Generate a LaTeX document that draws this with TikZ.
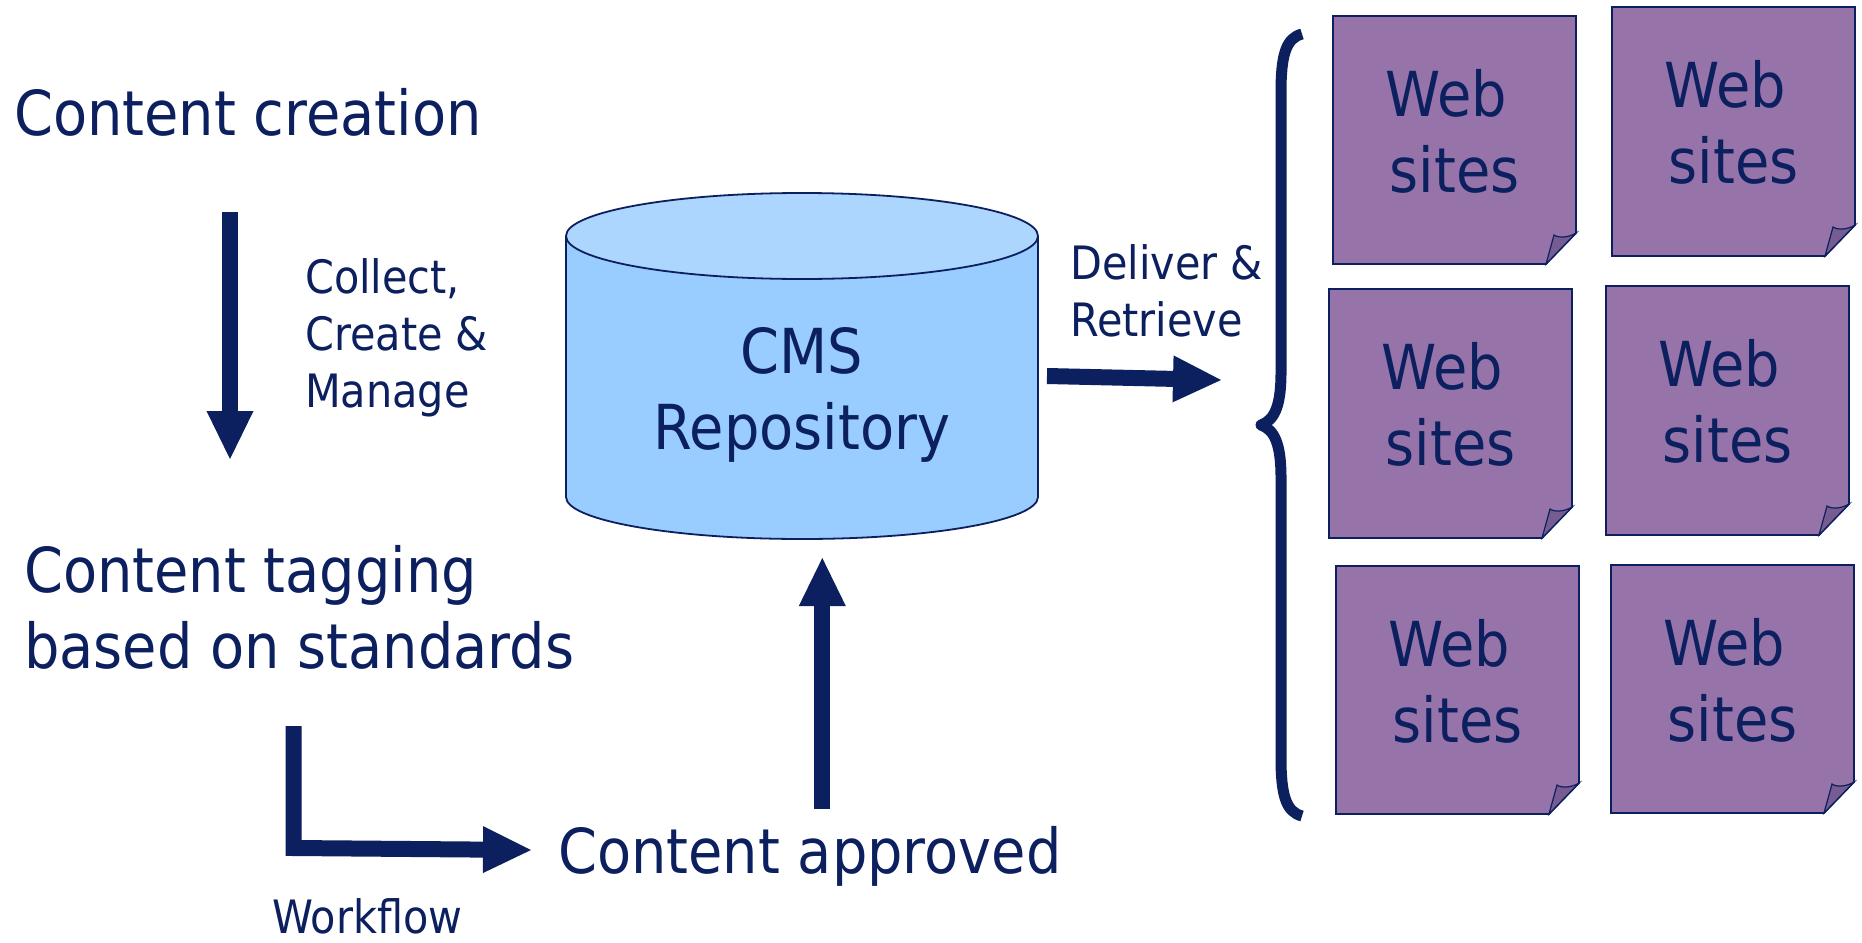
\documentclass[tikz,border=0pt]{standalone}
\usepackage{fontspec}
\setmainfont[FakeStretch=0.9]{DejaVu Sans}
\usetikzlibrary{arrows.meta}
\definecolor{navy}{RGB}{12,31,94}
\definecolor{sitepurple}{RGB}{150,116,170}
\definecolor{flapcol}{RGB}{118,92,145}
\definecolor{cylbody}{RGB}{153,204,255}
\definecolor{cyltop}{RGB}{173,214,255}
\newcommand\websitebox[5]{%
  \draw[site] (#2,-#3) -- (#4,-#3) -- (#4,-#5+31) -- (#4-30,-#5) -- (#2,-#5) -- cycle;
  \draw[flap] (#4-30,-#5) -- (#4-22,-#5+29) .. controls (#4-18,-#5+26) and (#4-8,-#5+26) .. (#4,-#5+31) -- cycle;
  \node[txt,big,align=center,anchor=base] (#1) at ({(#2+#4)/2},-#3-176) {Web\kern16pt\\sites};
}
\begin{document}
\begin{tikzpicture}[x=1pt,y=1pt,
  txt/.style={text=navy, inner sep=0pt},
  big/.style={font=\fontsize{62}{76}\selectfont},
  small/.style={font=\fontsize{46}{57}\selectfont},
  blockarrow/.style={draw=navy, line width=16pt, line join=miter,
    -{Triangle[length=48pt,width=47pt,line width=0pt]}},
  site/.style={draw=navy, line width=1.8pt, fill=sitepurple, line join=miter},
  flap/.style={draw=navy, line width=1.2pt, fill=flapcol},
  cyl/.style={draw=navy, line width=1.8pt},
  brace/.style={draw=navy, line width=11pt, line join=round}]
\fill[white] (0,0) rectangle (1862,-942);
\useasboundingbox (0,0) rectangle (1862,-942);

% left texts
\node[txt,big,anchor=base west] (create) at (14,-135) {Content creation};
\node[txt,small,anchor=base west,align=left] (collect) at (305,-407) {Collect,\\Create \&\\Manage};
\node[txt,big,anchor=base west,align=left] (tag) at (24,-668) {Content tagging\\based on standards};
\node[txt,small,anchor=base west] (wf) at (272,-933) {Workflow};
\node[txt,big,anchor=base west] (approved) at (558,-873) {Content approved};

% arrows
\coordinate (a1s) at (230,-212);
\coordinate (a1e) at (230,-459);
\draw[blockarrow] (a1s) -- (a1e);

\coordinate (a2s) at (293.5,-726);
\coordinate (a2c) at (293.5,-848);
\coordinate (a2e) at (531,-850);
\draw[blockarrow] (a2s) -- (a2c) -- (a2e);

\coordinate (a3s) at (822.3,-809);
\coordinate (a3e) at (822.3,-558);
\draw[blockarrow] (a3s) -- (a3e);

\coordinate (a4s) at (1047,-376);
\coordinate (a4e) at (1221,-380);
\draw[blockarrow] (a4s) -- (a4e);

% cylinder
\fill[cylbody] (566,-236) -- (566,-497) arc (180:360:236 and 42) -- (1038,-236) -- cycle;
\draw[cyl] (566,-236) -- (566,-497) arc (180:360:236 and 42) -- (1038,-236);
\draw[cyl, fill=cyltop] (802,-236) ellipse (236 and 43);
\node[txt,big,align=center,anchor=base] (cms) at (802,-449) {CMS\\Repository};

\node[txt,small,anchor=base west,align=left] (deliver) at (1070,-336) {Deliver \&\\Retrieve};

% brace
\draw[brace] (1302,-34) .. controls (1286,-38) and (1281,-55) .. (1281,-92)
  -- (1281,-372) .. controls (1281,-405) and (1275,-420) .. (1261,-425)
  .. controls (1275,-430) and (1281,-445) .. (1281,-478)
  -- (1281,-758) .. controls (1281,-795) and (1286,-812) .. (1302,-816);

% web sites
\websitebox{w1}{1333}{16}{1576}{264}
\websitebox{w2}{1612}{7}{1855}{256}
\websitebox{w3}{1329}{289}{1572}{538}
\websitebox{w4}{1606}{286}{1849}{535}
\websitebox{w5}{1336}{566}{1579}{814}
\websitebox{w6}{1611}{565}{1854}{813}
\end{tikzpicture}
\end{document}
